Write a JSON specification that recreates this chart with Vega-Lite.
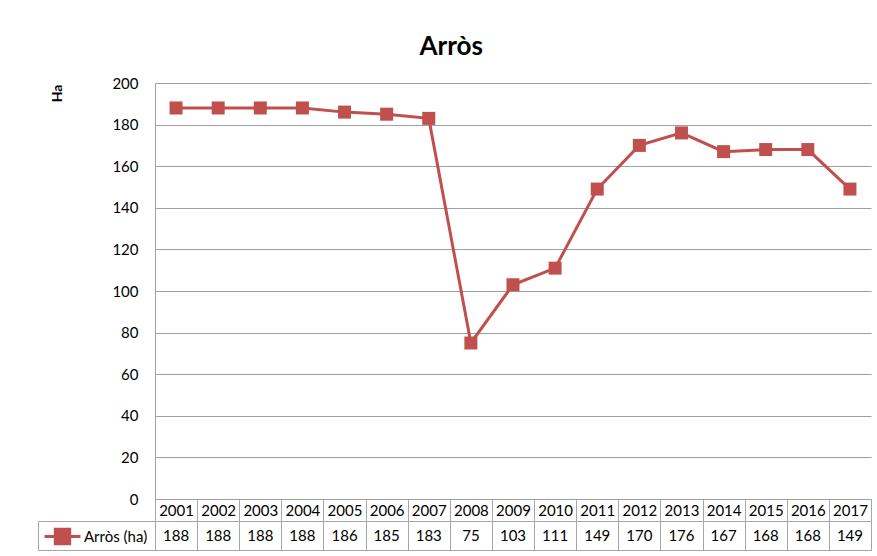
{
  "$schema": "https://vega.github.io/schema/vega-lite/v6.json",
  "background": "white",
  "autosize": {"type": "pad"},
  "padding": {"left": 37, "top": 34, "right": 7, "bottom": 6},
  "title": {"text": "Arròs", "font": "Lato", "fontSize": 26, "fontWeight": "bold", "color": "black", "anchor": "middle", "offset": 16, "dx": -3},
  "data": {"values": [
    {"year": "2001", "series": "Arròs (ha)", "value": 188},
    {"year": "2002", "series": "Arròs (ha)", "value": 188},
    {"year": "2003", "series": "Arròs (ha)", "value": 188},
    {"year": "2004", "series": "Arròs (ha)", "value": 188},
    {"year": "2005", "series": "Arròs (ha)", "value": 186},
    {"year": "2006", "series": "Arròs (ha)", "value": 185},
    {"year": "2007", "series": "Arròs (ha)", "value": 183},
    {"year": "2008", "series": "Arròs (ha)", "value": 75},
    {"year": "2009", "series": "Arròs (ha)", "value": 103},
    {"year": "2010", "series": "Arròs (ha)", "value": 111},
    {"year": "2011", "series": "Arròs (ha)", "value": 149},
    {"year": "2012", "series": "Arròs (ha)", "value": 170},
    {"year": "2013", "series": "Arròs (ha)", "value": 176},
    {"year": "2014", "series": "Arròs (ha)", "value": 167},
    {"year": "2015", "series": "Arròs (ha)", "value": 168},
    {"year": "2016", "series": "Arròs (ha)", "value": 168},
    {"year": "2017", "series": "Arròs (ha)", "value": 149}
  ]},
  "spacing": 22,
  "bounds": "flush",
  "vconcat": [
    {
      "width": 716,
      "height": 416,
      "encoding": {
        "x": {
          "field": "year", "type": "ordinal", "bandPosition": 0.5,
          "scale": {"type": "band", "paddingInner": 0, "paddingOuter": 0},
          "axis": {
            "title": null, "orient": "bottom", "labelAngle": 0, "tickBand": "extent",
            "tickSize": 22, "tickColor": "#A6A6A6", "tickWidth": 1,
            "domainColor": "#A0A0A0", "labelPadding": -11, "labelBaseline": "middle",
            "labelFont": "Lato", "labelFontSize": 15, "labelColor": "black", "grid": false
          }
        },
        "y": {
          "field": "value", "type": "quantitative",
          "scale": {"domain": [0, 200], "nice": false},
          "axis": {
            "title": "Ha", "values": [0, 20, 40, 60, 80, 100, 120, 140, 160, 180, 200],
            "grid": true, "gridColor": "#A0A0A0", "domain": true, "domainColor": "#A0A0A0",
            "ticks": false, "labelPadding": 17, "labelFont": "Lato", "labelFontSize": 15, "labelColor": "black",
            "titleFont": "Lato", "titleFontSize": 14, "titleFontWeight": "bold", "titleColor": "black",
            "titleAngle": -90, "titleX": -91, "titleY": 10, "titleAlign": "center", "titleBaseline": "bottom"
          }
        }
      },
      "layer": [
        {
          "mark": {"type": "line", "strokeWidth": 3},
          "encoding": {
            "color": {
              "field": "series", "type": "nominal",
              "scale": {"range": ["#C0504D"]},
              "legend": {
                "orient": "none", "legendX": -112, "legendY": 434, "title": null,
                "padding": 0, "offset": 0,
                "symbolType": "M-1,0H-0.4M0.4,0H1M-0.4,-0.4H0.4V0.4H-0.4Z",
                "symbolSize": 1296, "symbolStrokeWidth": 3,
                "labelFont": "Lato", "labelFontSize": 15, "labelColor": "black", "labelOffset": 2,
                "encode": {"symbols": {"update": {"fill": {"value": "#C0504D"}, "stroke": {"value": "#C0504D"}, "strokeWidth": {"value": 3}, "opacity": {"value": 1}}}}
              }
            }
          }
        },
        {
          "mark": {"type": "point", "shape": "square", "filled": true, "size": 169, "opacity": 1},
          "encoding": {
            "color": {"field": "series", "type": "nominal"}
          }
        }
      ]
    },
    {
      "width": 716,
      "height": 29,
      "view": {"stroke": "#A6A6A6"},
      "mark": {"type": "text", "font": "Lato", "fontSize": 15, "color": "black", "baseline": "middle"},
      "encoding": {
        "x": {
          "field": "year", "type": "ordinal", "bandPosition": 0.5,
          "scale": {"type": "band", "paddingInner": 0, "paddingOuter": 0},
          "axis": {"orient": "top", "title": null, "labels": false, "ticks": false, "domain": false, "grid": true, "gridColor": "#A6A6A6", "tickBand": "extent"}
        },
        "y": {
          "field": "series", "type": "nominal",
          "scale": {"type": "band", "paddingInner": 0, "paddingOuter": 0},
          "axis": {"title": null, "labels": false, "offset": 117, "tickSize": -117, "ticks": true, "tickColor": "#A6A6A6", "tickBand": "extent", "domain": true, "domainColor": "#A6A6A6", "grid": false}
        },
        "text": {"field": "value", "type": "quantitative"}
      }
    }
  ],
  "config": {"font": "Lato", "view": {"stroke": null}}
}
